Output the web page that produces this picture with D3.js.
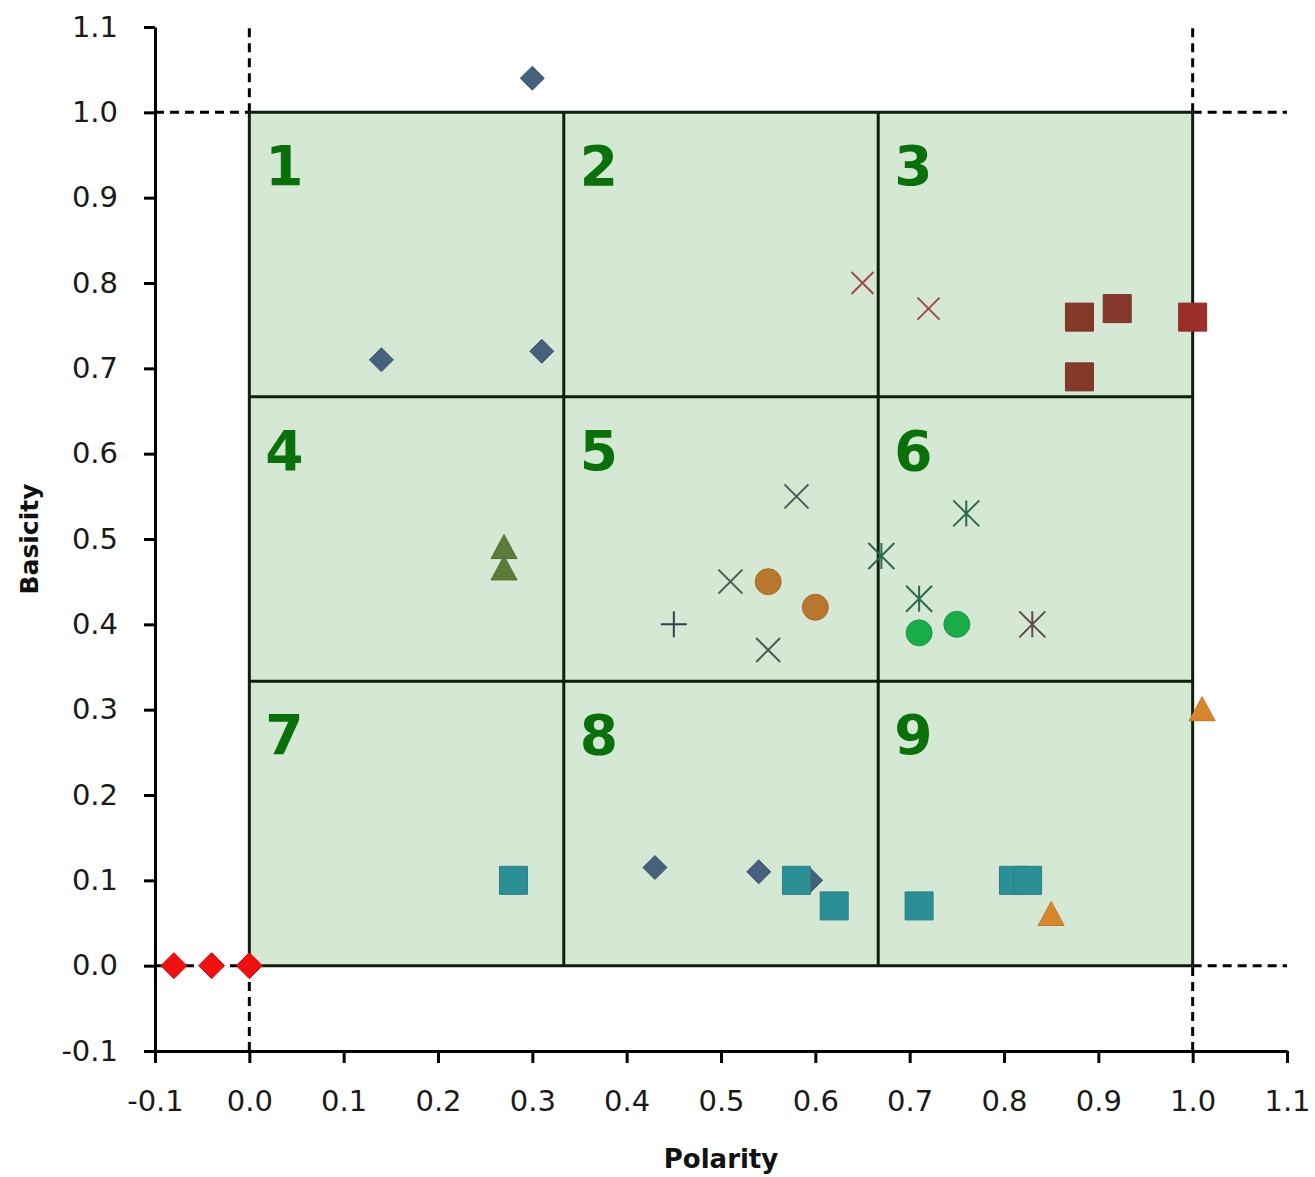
<!DOCTYPE html>
<html>
<head>
<meta charset="utf-8">
<script src="https://cdn.jsdelivr.net/npm/d3@7"></script>
<style>
  body { margin: 0; background: #fff; }
  svg { display: block; }
</style>
</head>
<body>
<svg id="chart"></svg>
<script>
// axis ticks
var xTicks = [-0.1, 0.0, 0.1, 0.2, 0.3, 0.4, 0.5, 0.6, 0.7, 0.8, 0.9, 1.0, 1.1];
var yTicks = [-0.1, 0.0, 0.1, 0.2, 0.3, 0.4, 0.5, 0.6, 0.7, 0.8, 0.9, 1.0, 1.1];

// region grid (3x3) and labels
var gridCuts = [0, 1/3, 2/3, 1];
var regionLabels = ["1", "2", "3", "4", "5", "6", "7", "8", "9"];

// series: [polarity, basicity]
var blueDiamonds = [[0.30, 1.04], [0.14, 0.71], [0.31, 0.72], [0.43, 0.115], [0.54, 0.11], [0.595, 0.10]];
var redDiamonds = [[-0.08, 0.0], [-0.04, 0.0], [0.0, 0.0]];
var brownSquares = [[0.88, 0.76], [0.92, 0.77], [0.88, 0.69]];
var redSquares = [[1.0, 0.76]];
var redCrosses = [[0.65, 0.80], [0.72, 0.77]];
var grayCrosses = [[0.58, 0.55], [0.51, 0.45], [0.55, 0.37]];
var plusMarks = [[0.45, 0.40]];
var greenStars = [[0.67, 0.48], [0.76, 0.53], [0.71, 0.43]];
var brownStars = [[0.83, 0.40]];
var orangeCircles = [[0.55, 0.45], [0.60, 0.42]];
var greenCircles = [[0.71, 0.39], [0.75, 0.40]];
var oliveTriangles = [[0.27, 0.49], [0.27, 0.465]];
var orangeTriangles = [[1.01, 0.30], [0.85, 0.06]];
var tealSquares = [[0.28, 0.10], [0.58, 0.10], [0.62, 0.07], [0.71, 0.07], [0.81, 0.10], [0.825, 0.10]];

//Canvas setting
var svg = d3.select("#chart");
svg.width = 1315;
svg.height = 1177;
svg.attr("width", svg.width).attr("height", svg.height);

var margin = {top: 27, left: 155, right: 28, bottom: 126};
var w = svg.width - margin.left - margin.right,
    h = svg.height - margin.top - margin.bottom;

var g = svg.append("g").attr("transform", "translate(" + margin.left + "," + margin.top + ")");

var x = d3.scaleLinear().domain([-0.1, 1.1]).range([0, w]);
var y = d3.scaleLinear().domain([-0.1, 1.1]).range([h, 0]);

var gridColor = "#0e1f0e";
var fmt = function(d){ return d3.format(".1f")(d).replace("\u2212", "-"); };

// green area
g.append("rect")
  .attr("x", x(0)).attr("y", y(1))
  .attr("width", x(1) - x(0)).attr("height", y(0) - y(1))
  .style("fill", "#d5e8d4");

// dashed guide lines outside the area
var dashSegs = [
  [0, 1, 0, 1.1], [0, -0.1, 0, 0], [1, 1, 1, 1.1], [1, -0.1, 1, 0],
  [-0.1, 1, 0, 1], [1, 1, 1.1, 1], [-0.1, 0, 0, 0], [1, 0, 1.1, 0]
];
g.selectAll(".dash").data(dashSegs).enter().append("line")
  .attr("class", "dash")
  .attr("x1", function(d){ return x(d[0]); })
  .attr("y1", function(d){ return y(d[1]); })
  .attr("x2", function(d){ return x(d[2]); })
  .attr("y2", function(d){ return y(d[3]); })
  .style("stroke", "#000").style("stroke-width", 3)
  .style("stroke-dasharray", "9,6");

// 3x3 grid lines
g.selectAll(".vgrid").data(gridCuts).enter().append("line")
  .attr("x1", function(d){ return x(d); }).attr("x2", function(d){ return x(d); })
  .attr("y1", y(0)).attr("y2", y(1))
  .style("stroke", gridColor).style("stroke-width", 3);
g.selectAll(".hgrid").data(gridCuts).enter().append("line")
  .attr("y1", function(d){ return y(d); }).attr("y2", function(d){ return y(d); })
  .attr("x1", x(0)).attr("x2", x(1))
  .style("stroke", gridColor).style("stroke-width", 3);

// region numbers
g.selectAll(".region").data(regionLabels).enter().append("text")
  .attr("x", function(d, i){ return x(gridCuts[i % 3]) + 16; })
  .attr("y", function(d, i){ return y(gridCuts[3 - Math.floor(i / 3)]) + 73; })
  .text(function(d){ return d; })
  .style("font-family", "DejaVu Sans, sans-serif")
  .style("font-weight", "bold")
  .style("font-size", "55px")
  .style("fill", "#0a700a");

// axes
var xAxis = g.append("g").attr("transform", "translate(0," + h + ")")
  .call(d3.axisBottom(x).tickValues(xTicks).tickFormat(fmt).tickSize(12).tickSizeOuter(0).tickPadding(27));
var yAxis = g.append("g")
  .call(d3.axisLeft(y).tickValues(yTicks).tickFormat(fmt).tickSize(11).tickSizeOuter(0).tickPadding(26));

[xAxis, yAxis].forEach(function(a){
  a.select(".domain").style("stroke", "#000").style("stroke-width", 3);
  a.selectAll(".tick line").style("stroke", "#000").style("stroke-width", 3);
  a.selectAll(".tick text")
    .style("font-family", "DejaVu Sans, sans-serif")
    .style("font-size", "29px")
    .style("fill", "#1a1a1a");
});

// axis titles
svg.append("text")
  .attr("x", margin.left + x(0.5)).attr("y", 1168)
  .attr("text-anchor", "middle")
  .text("Polarity")
  .style("font-family", "DejaVu Sans, sans-serif").style("font-weight", "bold")
  .style("font-size", "26px").style("fill", "#111");
svg.append("text")
  .attr("transform", "translate(38," + (margin.top + y(0.5)) + ") rotate(-90)")
  .attr("text-anchor", "middle")
  .text("Basicity")
  .style("font-family", "DejaVu Sans, sans-serif").style("font-weight", "bold")
  .style("font-size", "25px").style("fill", "#111");

// marker shapes, r = half size
function shapePath(shape, r){
  if(shape == "diamond"){ return "M0," + (-r) + "L" + r + ",0L0," + r + "L" + (-r) + ",0Z"; }
  else if(shape == "square"){ return "M" + (-r) + "," + (-r) + "h" + 2*r + "v" + 2*r + "h" + (-2*r) + "Z"; }
  else if(shape == "triangle"){ return "M0," + (-r) + "L" + r + "," + (0.85*r) + "L" + (-r) + "," + (0.85*r) + "Z"; }
  else if(shape == "cross"){ return "M" + (-r) + "," + (-r) + "L" + r + "," + r + "M" + (-r) + "," + r + "L" + r + "," + (-r); }
  else if(shape == "star"){ return "M" + (-r) + "," + (-r) + "L" + r + "," + r + "M" + (-r) + "," + r + "L" + r + "," + (-r) + "M0," + (-r) + "L0," + r; }
  else if(shape == "plus"){ return "M" + (-r) + ",0L" + r + ",0M0," + (-r) + "L0," + r; }
}

function drawSeries(data, shape, color, r){
  var line = (shape == "cross" || shape == "star" || shape == "plus");
  var sel = g.selectAll(null).data(data).enter();
  if(shape == "circle"){
    sel.append("circle")
      .attr("cx", function(d){ return x(d[0]); })
      .attr("cy", function(d){ return y(d[1]); })
      .attr("r", r)
      .style("fill", color)
      .style("stroke", d3.color(color).darker(0.3)).style("stroke-width", 1);
  } else {
    sel.append("path")
      .attr("transform", function(d){ return "translate(" + x(d[0]) + "," + y(d[1]) + ")"; })
      .attr("d", shapePath(shape, r))
      .style("fill", line ? "none" : color)
      .style("stroke", line ? color : d3.color(color).darker(0.3))
      .style("stroke-width", line ? 2 : 1);
  }
}

drawSeries(blueDiamonds, "diamond", "#46617c", 12);
drawSeries(redDiamonds, "diamond", "#f01010", 13);
drawSeries(tealSquares, "square", "#2b8f96", 14);
drawSeries(brownSquares, "square", "#85392a", 14);
drawSeries(redSquares, "square", "#9c2f2a", 14);
drawSeries(redCrosses, "cross", "#a14848", 11);
drawSeries(grayCrosses, "cross", "#4b5a55", 12);
drawSeries(plusMarks, "plus", "#2d4350", 13);
drawSeries(greenStars, "star", "#2c6a4e", 13);
drawSeries(brownStars, "star", "#5e4a48", 13);
drawSeries(orangeCircles, "circle", "#b8772c", 13);
drawSeries(greenCircles, "circle", "#18ad48", 13);
drawSeries(oliveTriangles, "triangle", "#5d7c3b", 13);
drawSeries(orangeTriangles, "triangle", "#d8862b", 13);
</script>
</body>
</html>
